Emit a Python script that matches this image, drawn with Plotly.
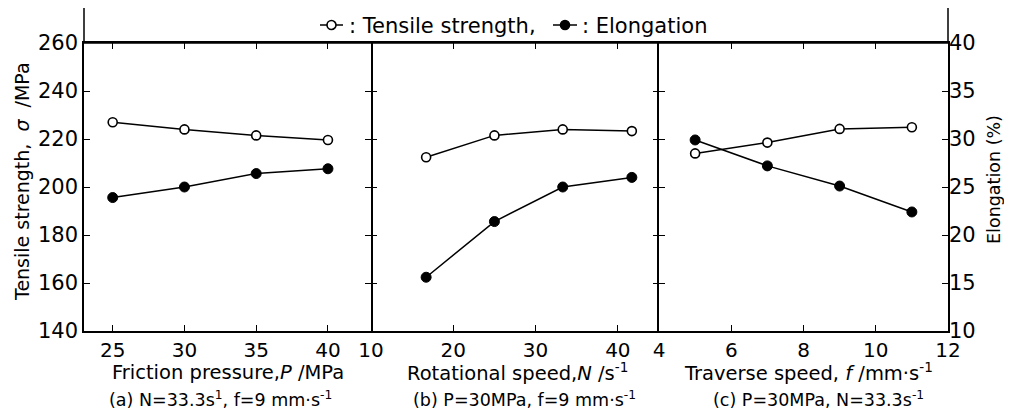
import plotly.graph_objects as go

# ---------------- data ----------------
pressure = [25, 30, 35, 40]
tensile_a = [227.0, 224.0, 221.5, 219.6]
elong_a = [23.9, 25.0, 26.4, 26.9]

rot_speed = [16.7, 25.0, 33.3, 41.7]
tensile_b = [212.4, 221.5, 224.0, 223.3]
elong_b = [15.6, 21.4, 25.0, 26.0]

trav_speed = [5, 7, 9, 11]
tensile_c = [214.0, 218.5, 224.2, 224.9]
elong_c = [29.9, 27.2, 25.1, 22.4]

xlabels = ["Friction pressure,<i>P</i> /MPa",
           "Rotational speed,<i>N</i> /s<sup>-1</sup>",
           "Traverse speed, <i>f</i> /mm·s<sup>-1</sup>"]
sublabels = ["(a) N=33.3s<sup>1</sup>, f=9 mm·s<sup>-1</sup>",
             "(b) P=30MPa, f=9 mm·s<sup>-1</sup>",
             "(c) P=30MPa, N=33.3s<sup>-1</sup>"]
name_t = ": Tensile strength,"
name_e = ": Elongation"

# ---------------- layout helpers ----------------
OFF = 8                      # browser default body margin
W, H = 1012 - 2 * OFF, 418 - 2 * OFF
L, R, T, B = 84 - OFF, 948 - OFF, 43 - OFF, 331 - OFF
PW, PH = R - L, B - T


def px(x):
    return (x - OFF - L) / PW


def py(y):
    return (B - (y - OFF)) / PH


FONT = "DejaVu Sans"
doms = [[0, px(371)], [px(371), px(659)], [px(659), 1]]

fig = go.Figure()

line = dict(color="black", width=1.5)
open_m = dict(symbol="circle", size=9, color="white", line=dict(color="black", width=1.6))
fill_m = dict(symbol="circle", size=10, color="black", line=dict(color="black", width=1))

sets = [
    (pressure, tensile_a, elong_a, "x", "y", "y5"),
    (rot_speed, tensile_b, elong_b, "x2", "y3", "y6"),
    (trav_speed, tensile_c, elong_c, "x3", "y4", "y2"),
]
for i, (xs, ts, es, xa, ya, ea) in enumerate(sets):
    fig.add_trace(go.Scatter(x=xs, y=ts, mode="lines+markers", line=line, marker=open_m,
                             name=name_t, showlegend=False, xaxis=xa, yaxis=ya))
    fig.add_trace(go.Scatter(x=xs, y=es, mode="lines+markers", line=line, marker=fill_m,
                             name=name_e, showlegend=False, xaxis=xa, yaxis=ea))

YTICKFONT = dict(family=FONT, size=21, color="black")
XTICKFONT = dict(family=FONT, size=20, color="black")
xcommon = dict(showline=True, linecolor="black", linewidth=1.5, mirror="ticks",
               ticks="inside", ticklen=6, tickwidth=1.3, tickcolor="black",
               showgrid=False, zeroline=False, tickfont=XTICKFONT)
ycommon = dict(linecolor="black", linewidth=1.5, mirror="ticks",
               ticks="inside", ticklen=6, tickwidth=1.3, tickcolor="black",
               showgrid=False, zeroline=False, range=[140, 260], dtick=20,
               tickfont=YTICKFONT)

fig.update_layout(
    width=W, height=H,
    margin=dict(l=L, r=W - R, t=T, b=H - B, pad=0, autoexpand=False),
    paper_bgcolor="white", plot_bgcolor="white",
    xaxis=dict(domain=doms[0], range=[23, 43], dtick=5, anchor="y", **xcommon),
    xaxis2=dict(domain=doms[1], range=[10, 45], dtick=10, anchor="y3", **xcommon),
    xaxis3=dict(domain=doms[2], range=[4, 12], dtick=2, anchor="y4", **xcommon),
    yaxis=dict(anchor="x", showline=True, **ycommon),
    yaxis3=dict(anchor="x2", showline=False, showticklabels=False, **ycommon),
    yaxis4=dict(anchor="x3", showline=True, showticklabels=False, **ycommon),
    yaxis5=dict(anchor="x", overlaying="y", range=[10, 40], visible=False),
    yaxis6=dict(anchor="x2", overlaying="y3", range=[10, 40], visible=False),
    yaxis2=dict(anchor="x3", overlaying="y4", side="right", range=[10, 40], dtick=5,
                ticks="inside", ticklen=6, tickwidth=1.3, tickcolor="black",
                showline=False, showgrid=False, zeroline=False, tickfont=YTICKFONT),
    showlegend=False,
    font=dict(family=FONT, color="black"),
)

shapes = []
# frame / legend band
shapes.append(dict(type="rect", xref="paper", yref="paper", x0=0, x1=1, y0=1, y1=py(7),
                   line=dict(color="black", width=1.5), fillcolor="rgba(0,0,0,0)"))
# legend keys (drawn in the band)
LEG_Y = 25
for (x0, x1, filled) in [(320, 343, False), (553, 577, True)]:
    cx = (x0 + x1) / 2
    r = 4.5
    shapes.append(dict(type="line", xref="paper", yref="paper", x0=px(x0), x1=px(x1),
                       y0=py(LEG_Y), y1=py(LEG_Y), line=dict(color="black", width=1.5)))
    shapes.append(dict(type="circle", xref="paper", yref="paper",
                       x0=px(cx - r), x1=px(cx + r), y0=py(LEG_Y - r), y1=py(LEG_Y + r),
                       line=dict(color="black", width=1.6),
                       fillcolor="black" if filled else "white"))
fig.update_layout(shapes=shapes)

ann = []
LEGFONT = dict(family=FONT, size=21, color="black")
ann.append(dict(text=name_t, x=px(347), y=py(26), xref="paper", yref="paper", showarrow=False,
                xanchor="left", yanchor="middle", font=LEGFONT))
ann.append(dict(text=name_e, x=px(580), y=py(26), xref="paper", yref="paper", showarrow=False,
                xanchor="left", yanchor="middle", font=LEGFONT))

centers = [228, 517, 808]
sub_centers = [220, 524, 818]
for i in range(3):
    ann.append(dict(text=xlabels[i], x=px(centers[i]), y=py(372), xref="paper", yref="paper",
                    showarrow=False, xanchor="center", yanchor="middle",
                    font=dict(family=FONT, size=19.5, color="black")))
    ann.append(dict(text=sublabels[i], x=px(sub_centers[i]), y=py(399), xref="paper", yref="paper",
                    showarrow=False, xanchor="center", yanchor="middle",
                    font=dict(family=FONT, size=17.5, color="black")))
ann.append(dict(text="Tensile strength,\u00a0\u00a0<i>σ</i>\u00a0\u00a0/MPa", x=px(22), y=py(182),
                xref="paper", yref="paper", showarrow=False, textangle=-90,
                xanchor="center", yanchor="middle",
                font=dict(family=FONT, size=19, color="black")))
ann.append(dict(text="Elongation (%)", x=px(994), y=py(180),
                xref="paper", yref="paper", showarrow=False, textangle=-90,
                xanchor="center", yanchor="middle",
                font=dict(family=FONT, size=17.5, color="black")))
fig.update_layout(annotations=ann)

fig.write_html("out.html")
